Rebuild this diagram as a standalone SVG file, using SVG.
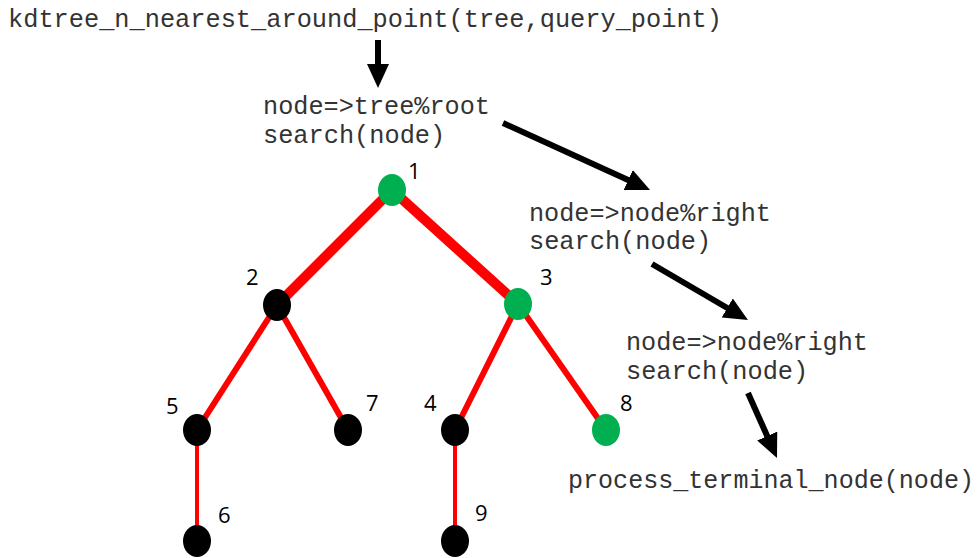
<svg xmlns="http://www.w3.org/2000/svg" width="978" height="558" viewBox="0 0 978 558">
  <style>
    .code { font-family: "Liberation Mono", "Courier New", monospace; font-size: 25.3px; fill: #333; }
    .num { font-family: "Open Sans", "DejaVu Sans", sans-serif; font-size: 22px; fill: #000; }
    .edge { stroke: #ff0000; fill: none; }
    .flow { stroke: #000; stroke-width: 6; fill: none; marker-end: url(#head); }
    .leaf { fill: #000; }
    .hit { fill: #00b050; }
  </style>
  <defs>
    <marker id="head" markerUnits="userSpaceOnUse" viewBox="0 0 24 22" refX="12" refY="11" markerWidth="24" markerHeight="22" orient="auto">
      <path d="M0,0 L24,11 L0,22 Z" fill="#000"/>
    </marker>
  </defs>

  <rect width="978" height="558" fill="#fff"/>

  <!-- call trace text -->
  <text class="code" x="8" y="27" textLength="714" lengthAdjust="spacingAndGlyphs">kdtree_n_nearest_around_point(tree,query_point)</text>
  <text class="code" x="263" y="114" textLength="227" lengthAdjust="spacingAndGlyphs">node=&gt;tree%root</text>
  <text class="code" x="263" y="143">search(node)</text>
  <text class="code" x="529" y="221" textLength="242" lengthAdjust="spacingAndGlyphs">node=&gt;node%right</text>
  <text class="code" x="529" y="249">search(node)</text>
  <text class="code" x="626" y="350" textLength="242" lengthAdjust="spacingAndGlyphs">node=&gt;node%right</text>
  <text class="code" x="626" y="379">search(node)</text>
  <text class="code" x="568" y="488" textLength="406" lengthAdjust="spacingAndGlyphs">process_terminal_node(node)</text>

  <!-- connectors: tree edges and flow arrows -->
  <g id="connectors">
    <line class="edge" x1="392" y1="190" x2="277" y2="305" stroke-width="10"/>
    <line class="edge" x1="392" y1="190" x2="518" y2="304" stroke-width="10"/>
    <line class="edge" x1="277" y1="305" x2="197" y2="430" stroke-width="6"/>
    <line class="edge" x1="277" y1="305" x2="348" y2="430" stroke-width="6"/>
    <line class="edge" x1="518" y1="304" x2="455" y2="430" stroke-width="6"/>
    <line class="edge" x1="518" y1="304" x2="606" y2="430" stroke-width="6"/>
    <line class="edge" x1="197" y1="430" x2="197" y2="541" stroke-width="4"/>
    <line class="edge" x1="455" y1="430" x2="455" y2="541" stroke-width="4"/>

    <line class="flow" x1="378" y1="40" x2="378" y2="76"/>
    <line class="flow" x1="503" y1="123" x2="639.1" y2="185"/>
    <line class="flow" x1="652" y1="264" x2="737.6" y2="314"/>
    <line class="flow" x1="748" y1="393" x2="772.1" y2="447"/>
  </g>

  <g id="n1"><ellipse class="hit" cx="392" cy="190" rx="14" ry="16"/><text class="num" x="408" y="179">1</text></g>
  <g id="n2"><ellipse class="leaf" cx="277" cy="305" rx="14" ry="16"/><text class="num" x="246" y="285">2</text></g>
  <g id="n3"><ellipse class="hit" cx="518" cy="304" rx="14" ry="16"/><text class="num" x="540" y="285">3</text></g>
  <g id="n5"><ellipse class="leaf" cx="197" cy="430" rx="14" ry="16"/><text class="num" x="166" y="414">5</text></g>
  <g id="n7"><ellipse class="leaf" cx="348" cy="430" rx="14" ry="16"/><text class="num" x="366" y="411">7</text></g>
  <g id="n4"><ellipse class="leaf" cx="455" cy="430" rx="14" ry="16"/><text class="num" x="424" y="411">4</text></g>
  <g id="n8"><ellipse class="hit" cx="606" cy="430" rx="14" ry="16"/><text class="num" x="620" y="411">8</text></g>
  <g id="n6"><ellipse class="leaf" cx="197" cy="541" rx="14" ry="16"/><text class="num" x="218" y="523">6</text></g>
  <g id="n9"><ellipse class="leaf" cx="455" cy="541" rx="14" ry="16"/><text class="num" x="475" y="521">9</text></g>
</svg>
